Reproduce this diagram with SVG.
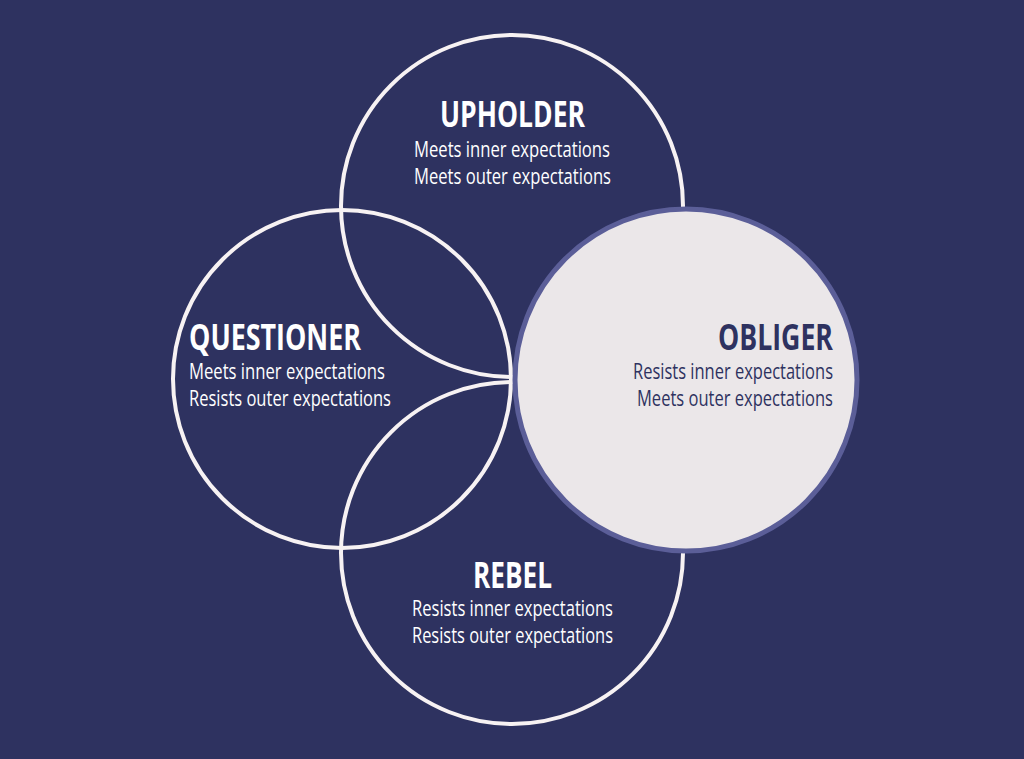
<svg xmlns="http://www.w3.org/2000/svg" width="1024" height="759" viewBox="0 0 1024 759">
<style>
.c{fill:none;stroke:#f7f2f3;stroke-width:4}
.t{font-family:"Open Sans","DejaVu Sans",sans-serif;font-weight:700;font-size:35px}
.s{font-family:"Open Sans","DejaVu Sans",sans-serif;font-size:21px}
.w{fill:#ffffff}
.d{fill:#2e3260}
</style>
<rect width="1024" height="759" fill="#2e3260"/>
<g id="upholder">
<circle class="c" cx="512" cy="206" r="171"/>
<text class="t w" x="440" y="127" textLength="145" lengthAdjust="spacingAndGlyphs">UPHOLDER</text>
<text class="s w" x="414" y="157" textLength="196" lengthAdjust="spacingAndGlyphs">Meets inner expectations</text>
<text class="s w" x="414" y="184" textLength="197" lengthAdjust="spacingAndGlyphs">Meets outer expectations</text>
</g>
<g id="questioner">
<circle class="c" cx="342" cy="379" r="169"/>
<text class="t w" x="189" y="350" textLength="172" lengthAdjust="spacingAndGlyphs">QUESTIONER</text>
<text class="s w" x="189" y="379" textLength="196" lengthAdjust="spacingAndGlyphs">Meets inner expectations</text>
<text class="s w" x="189" y="406" textLength="202" lengthAdjust="spacingAndGlyphs">Resists outer expectations</text>
</g>
<g id="rebel">
<circle class="c" cx="512" cy="553" r="171"/>
<text class="t w" x="473" y="588" textLength="79" lengthAdjust="spacingAndGlyphs">REBEL</text>
<text class="s w" x="412" y="616" textLength="201" lengthAdjust="spacingAndGlyphs">Resists inner expectations</text>
<text class="s w" x="412" y="643" textLength="201" lengthAdjust="spacingAndGlyphs">Resists outer expectations</text>
</g>
<g id="obliger">
<circle cx="686" cy="380" r="171" fill="#ebe7e9" stroke="#5b5e98" stroke-width="5"/>
<text class="t d" x="718" y="350" textLength="115" lengthAdjust="spacingAndGlyphs">OBLIGER</text>
<text class="s d" x="633" y="379" textLength="200" lengthAdjust="spacingAndGlyphs">Resists inner expectations</text>
<text class="s d" x="637" y="406" textLength="196" lengthAdjust="spacingAndGlyphs">Meets outer expectations</text>
</g>
<g id="connectors"/>
</svg>
